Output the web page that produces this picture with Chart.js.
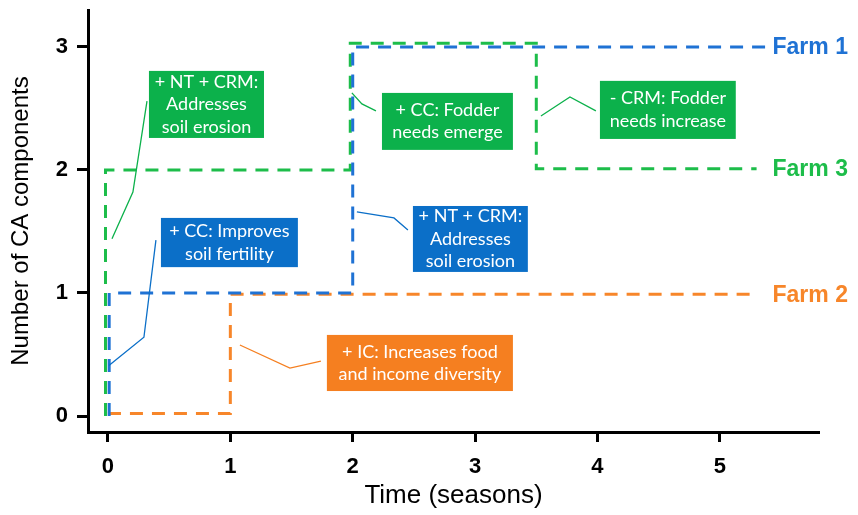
<!DOCTYPE html>
<html>
<head>
<meta charset="utf-8">
<script src="https://cdn.jsdelivr.net/npm/chart.js@4/dist/chart.umd.min.js"></script>
<style>
  html, body { margin: 0; padding: 0; background: #fff; }
  #wrap { width: 858px; height: 515px; }
</style>
</head>
<body>
<div id="wrap"><canvas id="myChart"></canvas></div>
<script>
// data (x = season, y = number of CA components)
const farm1X = [0.01, 0.01, 2.0, 2.0, 5.38];
const farm1Y = [0, 1, 1, 3, 3];
const farm2X = [0.0, 1.0, 1.0, 5.31];
const farm2Y = [0.02, 0.02, 0.99, 0.99];
const farm3X = [-0.02, -0.02, 1.98, 1.98, 3.5, 3.5, 5.3];
const farm3Y = [0, 2, 2, 3.03, 3.03, 2.01, 2.01];

const xTicks = [0, 1, 2, 3, 4, 5];
const yTicks = [0, 1, 2, 3];

const farmNames = ['Farm 1', 'Farm 2', 'Farm 3'];

const blueLine = '#1f72d4';
const greenLine = '#1dbd4a';
const orangeLine = '#f7862a';

// text boxes with their leader lines, in data units
const notes = [
    { text: ['+ NT + CRM:', 'Addresses', 'soil erosion'], box: [0.335, 2.805, 1.275, 2.26], color: '#0cb14b', line: [[0.033, 1.44], [0.204, 1.82], [0.319, 2.56]] },
    { text: ['+ CC: Improves', 'soil fertility'], box: [0.433, 1.61, 1.552, 1.21], color: '#0b6fc8', line: [[0.008, 0.41], [0.294, 0.64], [0.392, 1.43]] },
    { text: ['+ CC: Fodder', 'needs emerge'], box: [2.239, 2.626, 3.309, 2.163], color: '#0cb14b', line: [[1.993, 2.626], [2.075, 2.537], [2.19, 2.48]] },
    { text: ['- CRM: Fodder', 'needs increase'], box: [4.02, 2.724, 5.13, 2.252], color: '#0cb14b', line: [[3.538, 2.439], [3.775, 2.593], [3.987, 2.48]] },
    { text: ['+ NT + CRM:', 'Addresses', 'soil erosion'], box: [2.492, 1.707, 3.431, 1.171], color: '#0b6fc8', line: [[2.034, 1.659], [2.337, 1.61], [2.451, 1.512]] },
    { text: ['+ IC: Increases food', 'and income diversity'], box: [1.789, 0.659, 3.309, 0.203], color: '#f57f20', line: [[1.078, 0.577], [1.487, 0.39], [1.74, 0.447]] }
];

function pts(xs, ys) {
    return xs.map((x, i) => ({ x: x, y: ys[i] }));
}

const notesPlugin = {
    id: 'notes',
    afterDatasetsDraw(chart) {
        const ctx = chart.ctx;
        const sx = chart.scales.x, sy = chart.scales.y;
        ctx.save();
        notes.forEach(n => {
            // leader line
            ctx.beginPath();
            n.line.forEach((p, i) => {
                const px = sx.getPixelForValue(p[0]), py = sy.getPixelForValue(p[1]);
                if (i === 0) ctx.moveTo(px, py); else ctx.lineTo(px, py);
            });
            ctx.strokeStyle = n.color;
            ctx.lineWidth = 1.3;
            ctx.setLineDash([]);
            ctx.stroke();
            // box
            const x1 = sx.getPixelForValue(n.box[0]), y1 = sy.getPixelForValue(n.box[1]);
            const x2 = sx.getPixelForValue(n.box[2]), y2 = sy.getPixelForValue(n.box[3]);
            ctx.fillStyle = n.color;
            ctx.fillRect(x1, y1, x2 - x1, y2 - y1);
            ctx.fillStyle = '#fff';
            ctx.font = '18px Lato';
            ctx.textAlign = 'center';
            ctx.textBaseline = 'middle';
            const lh = 22.5;
            const cy = (y1 + y2) / 2 - (n.text.length - 1) * lh / 2;
            n.text.forEach((t, i) => ctx.fillText(t, (x1 + x2) / 2, cy + i * lh));
        });
        // farm labels at the end of each line
        const ends = [
            [farm1X[farm1X.length - 1], farm1Y[farm1Y.length - 1], blueLine],
            [farm2X[farm2X.length - 1], farm2Y[farm2Y.length - 1], orangeLine],
            [farm3X[farm3X.length - 1], farm3Y[farm3Y.length - 1], greenLine]
        ];
        ctx.font = 'bold 23px Arial, "Liberation Sans"';
        ctx.textAlign = 'left';
        ctx.textBaseline = 'middle';
        ends.forEach((e, i) => {
            ctx.fillStyle = e[2];
            ctx.fillText(farmNames[i], sx.getPixelForValue(5.43), sy.getPixelForValue(e[1]) + 1);
        });
        ctx.restore();
    }
};

const lineStyle = {
    borderWidth: 3,
    borderDash: [13, 9],
    pointRadius: 0,
    fill: false,
    tension: 0
};

new Chart(document.getElementById('myChart'), {
    type: 'line',
    data: {
        datasets: [
            Object.assign({ label: farmNames[0], data: pts(farm1X, farm1Y), borderColor: blueLine }, lineStyle),
            Object.assign({ label: farmNames[1], data: pts(farm2X, farm2Y), borderColor: orangeLine }, lineStyle),
            Object.assign({ label: farmNames[2], data: pts(farm3X, farm3Y), borderColor: greenLine }, lineStyle)
        ]
    },
    options: {
        responsive: true,
        maintainAspectRatio: false,
        animation: false,
        layout: { padding: { top: 10, right: 39, left: 0, bottom: 0 } },
        plugins: {
            legend: { display: false },
            tooltip: { enabled: false }
        },
        scales: {
            x: {
                type: 'linear',
                min: -0.163,
                max: 5.81,
                afterBuildTicks: s => { s.ticks = xTicks.map(v => ({ value: v })); },
                afterFit: s => { s.height = 83; s.paddingLeft = 0; s.paddingRight = 0; },
                border: { display: true, color: '#000', width: 3 },
                grid: { drawOnChartArea: false, drawTicks: true, tickLength: 10, tickWidth: 3, tickColor: '#000' },
                ticks: { color: '#000', padding: 12, font: { family: 'Arial, "Liberation Sans"', size: 22, weight: 'bold' } },
                title: { display: true, text: 'Time (seasons)', color: '#000', padding: { top: 6 }, font: { family: 'Arial, "Liberation Sans"', size: 26 } }
            },
            y: {
                type: 'linear',
                min: -0.13,
                max: 3.30,
                afterBuildTicks: s => { s.ticks = yTicks.map(v => ({ value: v })); },
                afterFit: s => { s.width = 88; s.paddingTop = 0; s.paddingBottom = 0; },
                border: { display: true, color: '#000', width: 3 },
                grid: { drawOnChartArea: false, drawTicks: true, tickLength: 11, tickWidth: 3, tickColor: '#000' },
                ticks: { color: '#000', padding: 9, font: { family: 'Arial, "Liberation Sans"', size: 22, weight: 'bold' } },
                title: { display: true, text: 'Number of CA components', color: '#000', padding: { top: 7 }, font: { family: 'Arial, "Liberation Sans"', size: 24 } }
            }
        }
    },
    plugins: [notesPlugin]
});
</script>
</body>
</html>
